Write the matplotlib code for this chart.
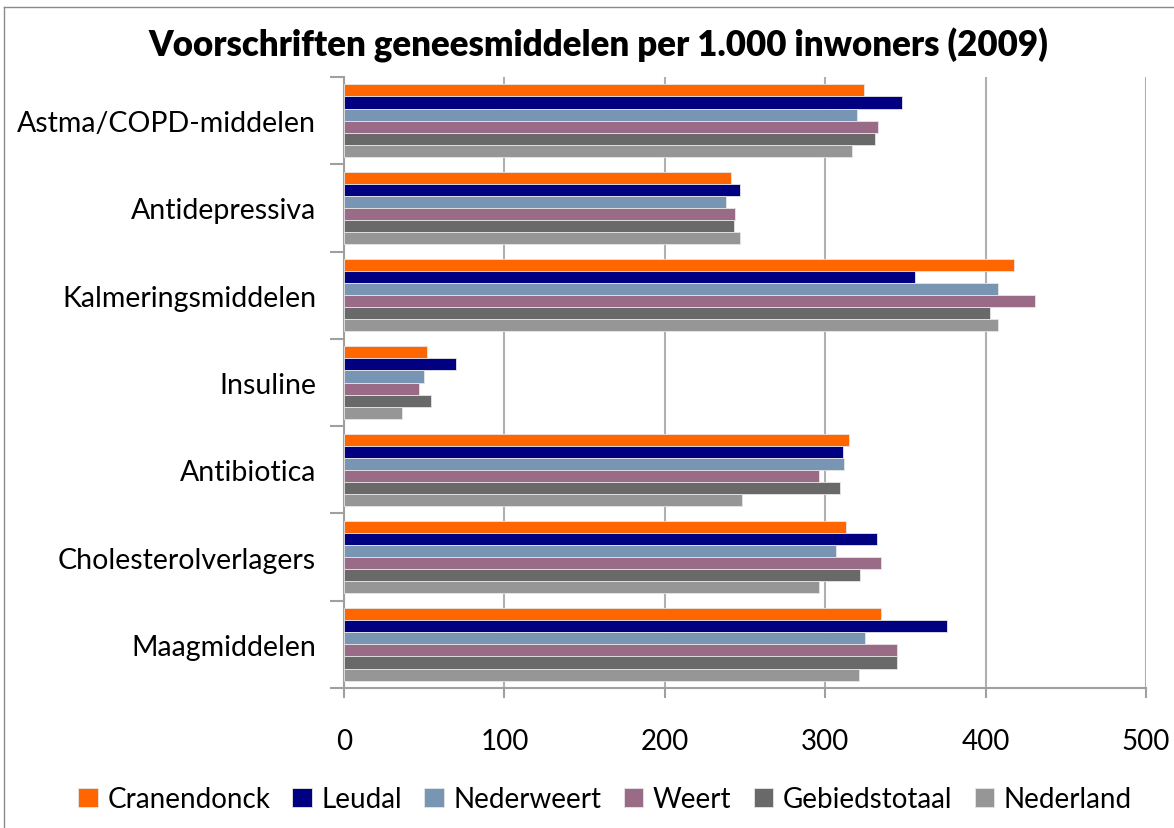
import matplotlib
matplotlib.use("Agg")
import matplotlib.pyplot as plt
import numpy as np
from matplotlib.lines import Line2D

categories = ["Astma/COPD-middelen", "Antidepressiva", "Kalmeringsmiddelen",
              "Insuline", "Antibiotica", "Cholesterolverlagers", "Maagmiddelen"]
series_names = ["Cranendonck", "Leudal", "Nederweert", "Weert", "Gebiedstotaal", "Nederland"]

cranendonck = [324, 241, 418, 52, 315, 313, 335]
leudal = [348, 247, 356, 70, 311, 332, 376]
nederweert = [320, 238, 408, 50, 312, 307, 325]
weert = [333, 244, 431, 47, 296, 335, 345]
gebiedstotaal = [331, 243, 403, 54, 309, 322, 345]
nederland = [317, 247, 408, 36, 248, 296, 321]

colors = ["#FF6600", "#000080", "#7895B3", "#996B86", "#696969", "#969696"]
x_ticks = [0, 100, 200, 300, 400, 500]

plt.rcParams["font.family"] = ["Lato", "DejaVu Sans"]

fig = plt.figure(figsize=(11.74, 8.29), dpi=100)
ax = fig.add_axes([344/1174, 1-689/829, (1146-344)/1174, (689-78)/829])

all_series = [cranendonck, leudal, nederweert, weert, gebiedstotaal, nederland]
y = np.arange(len(categories))
h = 0.83 / 6
for i, (name, vals) in enumerate(zip(series_names, all_series)):
    ax.barh(y + (i - 2.5) * h, vals, height=h, color=colors[i], label=name,
            edgecolor="#e6e6e6", linewidth=0.6, zorder=3)

ax.set_xlim(0, 500)
ax.set_ylim(6.5, -0.5)
ax.set_xticks(x_ticks)
ax.set_xticklabels([str(v) for v in x_ticks], fontsize=20)
ax.set_yticks(y)
ax.set_yticklabels(categories, fontsize=20.5)
ax.set_yticks(np.arange(-0.5, 7, 1), minor=True)
ax.tick_params(axis="y", which="major", length=0, pad=20)
ax.tick_params(axis="y", which="minor", length=10, color="#a0a0a0", width=1.5)
ax.tick_params(axis="x", length=7, color="#a0a0a0", width=1.5, pad=22)
ax.grid(axis="x", color="#b0b0b0", linewidth=1.5, zorder=0)
for s in ["top", "right"]:
    ax.spines[s].set_visible(False)
for s in ["left", "bottom"]:
    ax.spines[s].set_color("#a0a0a0")
    ax.spines[s].set_linewidth(1.5)

fig.text(598/1174, 1-45/829, "Voorschriften geneesmiddelen per 1.000 inwoners (2009)",
         ha="center", va="center", fontsize=25, fontweight="heavy")

fig.legend(loc="center", bbox_to_anchor=(605/1174, 1-800/829), ncol=6, frameon=False,
           fontsize=20, handlelength=0.7, handleheight=0.7, handletextpad=0.35,
           columnspacing=0.8)

fig.add_artist(Line2D([4/1174, 1], [1-8/829, 1-8/829], color="#8a8a8a", linewidth=1))
fig.add_artist(Line2D([4/1174, 4/1174], [0, 1-8/829], color="#8a8a8a", linewidth=1))

fig.savefig("out.png", dpi=100)
